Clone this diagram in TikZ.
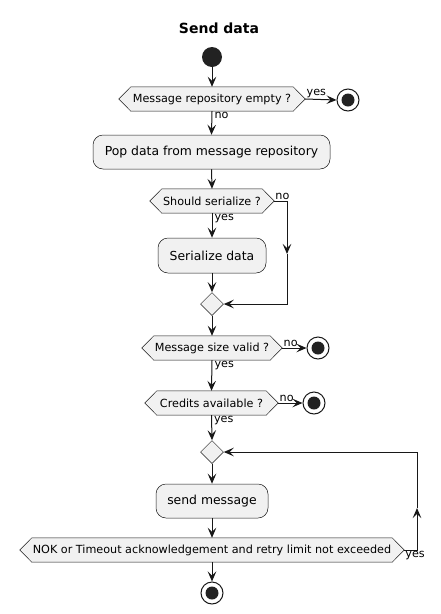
\documentclass[tikz,border=0pt]{standalone}
\usepackage{fontspec}
\setmainfont{DejaVu Sans}
\usetikzlibrary{arrows.meta,shapes.geometric}
\definecolor{lnc}{HTML}{181818}
\definecolor{fillc}{HTML}{F1F1F1}
\definecolor{dotc}{HTML}{222222}
\newcommand{\mydecision}[5]{%
  \node[dectext, minimum width=#4] (#1) at (#2,#3) {#5};
  \draw[decborder] (#1.west) -- ([xshift=12pt]#1.north west) -- ([xshift=-12pt]#1.north east) -- (#1.east) -- ([xshift=-12pt]#1.south east) -- ([xshift=12pt]#1.south west) -- cycle;
  \node[dectext, minimum width=#4] at (#2,#3) {#5};
}
\newcommand{\mystop}[3]{%
  \node[stopouter] (#1) at (#2,#3) {};
  \fill[dotc] (#1.center) circle (6.5pt);
}
\begin{document}
\begin{tikzpicture}[x=1pt,y=-1pt,
  dectext/.style={inner sep=0pt, minimum height=24pt, font=\fontsize{11.2}{13}\selectfont},
  decborder/.style={draw=lnc, fill=fillc, line width=0.5pt},
  actbox/.style={draw=lnc, fill=fillc, line width=0.5pt, rounded corners=10pt, inner sep=0pt, minimum height=34pt, font=\fontsize{12.4}{14}\selectfont},
  merge/.style={draw=lnc, fill=fillc, line width=0.5pt, diamond, inner sep=0pt},
  stopouter/.style={circle, draw=lnc, line width=1pt, fill=white, minimum size=22pt, inner sep=0pt},
  flow/.style={draw=lnc, line width=1pt, -{Stealth[length=10pt,width=8.5pt,inset=4pt]}},
  lbl/.style={font=\fontsize{11.2}{13}\selectfont, inner sep=1pt},
]
\useasboundingbox (0,0) rectangle (441,614);
\fill[white] (0,0) rectangle (441,614);

\node[font=\bfseries\fontsize{14}{16}\selectfont] (title) at (219,28) {Send data};

\node[circle, fill=dotc, minimum size=20pt, inner sep=0pt] (start) at (212,57) {};

\mydecision{d1}{212}{99}{186pt}{Message repository empty ?}
\mystop{s1}{348}{100}
\node[actbox, minimum width=237pt] (a1) at (211.5,152) {Pop data from message repository};
\mydecision{d2}{212}{201}{124pt}{Should serialize ?}
\node[actbox, minimum width=108pt, minimum height=35pt] (a2) at (212,255.5) {Serialize data};
\node[merge, minimum size=23pt] (m1) at (212,304) {};
\mydecision{d3}{212}{348}{140pt}{Message size valid ?}
\mystop{s2}{318}{348}
\mydecision{d4}{211.5}{403}{133pt}{Credits available ?}
\mystop{s3}{314}{403}
\node[merge, minimum size=23pt] (m2) at (212,452) {};
\node[actbox, minimum width=112pt] (a3) at (212,501) {send message};
\mydecision{d5}{212}{550}{384pt}{NOK or Timeout acknowledgement and retry limit not exceeded}
\mystop{s4}{212}{593}

\coordinate (c1) at (287,201);
\coordinate (c2) at (287,254);
\coordinate (c3) at (287,304);
\coordinate (c4) at (417,550);
\coordinate (c5) at (417,508);
\coordinate (c6) at (417,452);

\draw[flow] (start) -- (d1.north);
\draw[flow] (d1.east) -- (s1.west) node[lbl, pos=0, anchor=south west] {yes};
\draw[flow] (d1.south) -- (a1.north) node[lbl, pos=0, anchor=north west, xshift=1pt] {no};
\draw[flow] (a1.south) -- (d2.north);
\draw[flow] (d2.south) -- (a2.north) node[lbl, pos=0, anchor=north west, xshift=1pt] {yes};
\draw[flow] (d2.east) -- (c1) -- (c2);
\node[lbl, anchor=south west] at (d2.east) {no};
\draw[flow] (c2) -- (c3) -- (m1.east);
\draw[flow] (a2.south) -- (m1.north);
\draw[flow] (m1.south) -- (d3.north);
\draw[flow] (d3.east) -- (s2.west) node[lbl, pos=0, anchor=south west] {no};
\draw[flow] (d3.south) -- (d4.north) node[lbl, pos=0, anchor=north west, xshift=1pt] {yes};
\draw[flow] (d4.east) -- (s3.west) node[lbl, pos=0, anchor=south west] {no};
\draw[flow] (d4.south) -- (m2.north) node[lbl, pos=0, anchor=north west, xshift=1pt] {yes};
\draw[flow] (m2.south) -- (a3.north);
\draw[flow] (a3.south) -- (d5.north);
\draw[flow] (d5.east) -- (c4) -- (c5);
\node[lbl, anchor=west] at ([yshift=-6pt]d5.east) {yes};
\draw[flow] (c5) -- (c6) -- (m2.east);
\draw[flow] (d5.south) -- (s4.north);
\end{tikzpicture}
\end{document}
